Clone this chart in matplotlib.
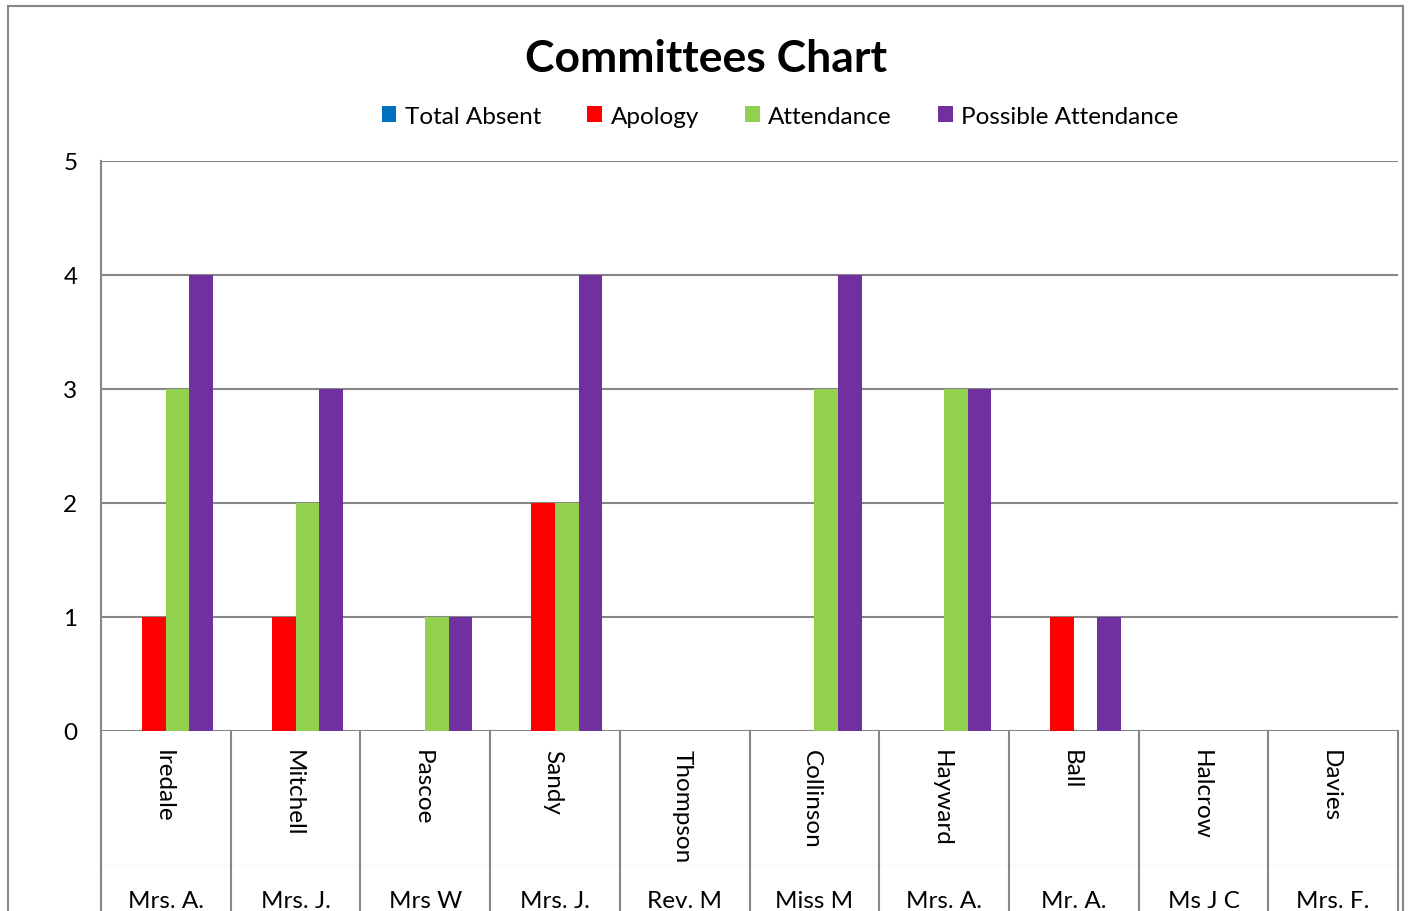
import matplotlib as mp
mp.use("Agg")
import matplotlib.pyplot as plt
from matplotlib.patches import Rectangle
import numpy as np

plt.rcParams["font.family"] = ["Lato", "DejaVu Sans"]

surnames = ["Iredale", "Mitchell", "Pascoe", "Sandy", "Thompson",
            "Collinson", "Hayward", "Ball", "Halcrow", "Davies"]
firstnames = ["Mrs. A.", "Mrs. J.", "Mrs W", "Mrs. J.", "Rev. M",
              "Miss M", "Mrs. A.", "Mr. A.", "Ms J C", "Mrs. F."]

total_absent = [0, 0, 0, 0, 0, 0, 0, 0, 0, 0]
apology = [1, 1, 0, 2, 0, 0, 0, 1, 0, 0]
attendance = [3, 2, 1, 2, 0, 3, 3, 0, 0, 0]
possible = [4, 3, 1, 4, 0, 4, 3, 1, 0, 0]

series = [("Total Absent", total_absent, "#0070c0"),
          ("Apology", apology, "#ff0000"),
          ("Attendance", attendance, "#92d050"),
          ("Possible Attendance", possible, "#7030a0")]

W, H = 1410, 912
fig = plt.figure(figsize=(W / 100, H / 100), dpi=100)

# plot area in pixels
px_l, px_r, px_t, px_b = 101, 1398, 162, 732
ax = fig.add_axes([px_l / W, (H - px_b) / H, (px_r - px_l) / W, (px_b - px_t) / H])

grey = "#868686"
fs = 17.5
x = np.arange(len(surnames))
bw = 1 / 5.5
handles = []
for i, (name, vals, col) in enumerate(series):
    h = ax.bar(x + (i - 1.5) * bw, vals, width=bw, color=col, label=name, zorder=3)
    handles.append(h)

ax.set_xlim(-0.5, len(surnames) - 0.5)
ax.set_ylim(0, 5)
ax.set_yticks(range(6))
ax.tick_params(axis="y", length=0, pad=17, labelsize=fs)
ax.set_xticks([])
for s in ax.spines.values():
    s.set_visible(False)
for v in range(0, 6):
    ax.axhline(v, color=grey, lw=1.5, zorder=2)

# axis lines and category boxes below the plot
ext = -(H - px_b) / (px_b - px_t)
xt = ax.get_xaxis_transform()
ax.plot([-0.5, len(surnames) - 0.5], [(px_b - 866) / (px_b - px_t)] * 2, transform=xt,
        color="#f6f6f6", lw=1, clip_on=False, zorder=1)
ax.plot([-0.5, -0.5], [ext, 1], transform=xt, color=grey, lw=1.5, clip_on=False, zorder=4)
for k in range(len(surnames)):
    ax.plot([k + 0.5, k + 0.5], [ext, 0], transform=xt, color=grey, lw=1.5,
            clip_on=False, zorder=4)

for k, (sn, fn) in enumerate(zip(surnames, firstnames)):
    ax.text(k - 0.02, -(750 - px_b) / (px_b - px_t), sn, transform=xt, rotation=270,
            ha="center", va="top", fontsize=fs)
    ax.text(k, -(902 - px_b) / (px_b - px_t), fn, transform=xt,
            ha="center", va="center", fontsize=fs)

fig.text(706 / W, 1 - 59 / H, "Committees Chart", ha="center", va="center",
         fontsize=32, fontweight="bold")

fig.legend(handles=handles, loc="center", bbox_to_anchor=(780 / W, 1 - 117 / H),
           ncol=4, frameon=False, fontsize=fs, handlelength=0.6, handleheight=0.6,
           handletextpad=0.35, columnspacing=1.9)

fig.add_artist(Rectangle((8 / W, -0.1), (1403 - 8) / W, 1.1 - 7 / H,
                         transform=fig.transFigure, fill=False, edgecolor=grey, lw=1.5))

fig.savefig("out.png", dpi=100)
